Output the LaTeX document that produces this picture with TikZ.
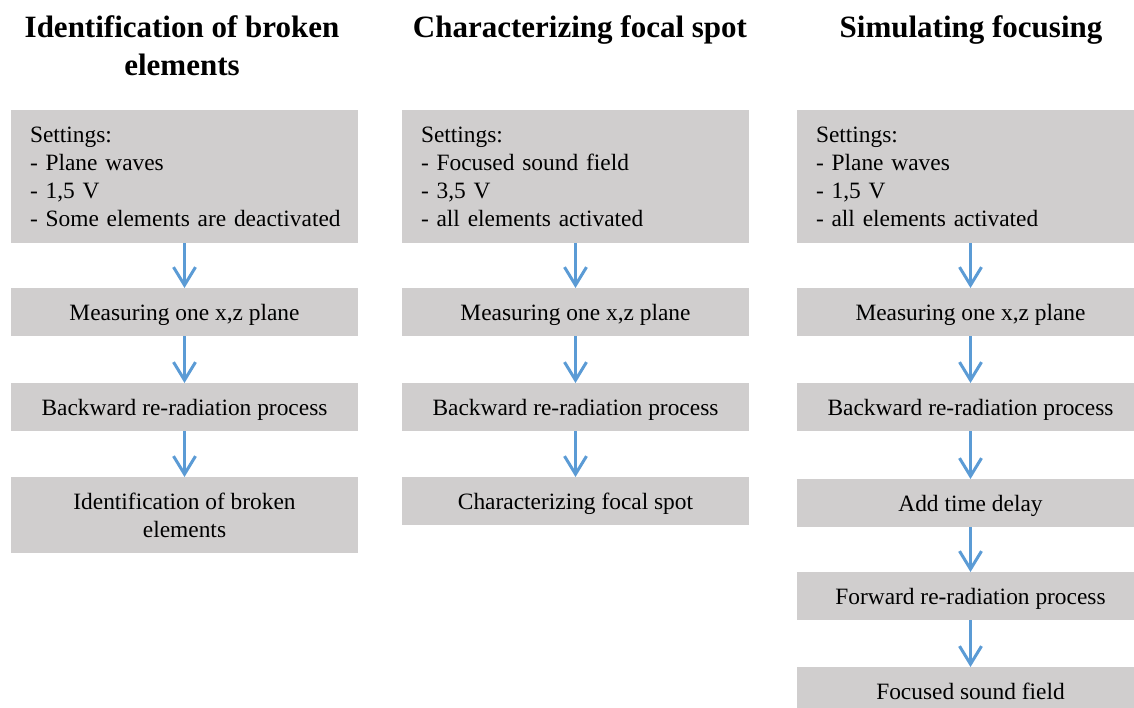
\documentclass[tikz,border=0pt]{standalone}
\usepackage{fontspec}
\setmainfont{Liberation Serif}
\usetikzlibrary{arrows.meta}
\definecolor{boxgray}{HTML}{D0CECE}
\definecolor{arrowblue}{HTML}{5B9BD5}
\begin{document}
\begin{tikzpicture}[x=1pt,y=-1pt,
  box/.style={fill=boxgray, draw=none, minimum width=347pt, inner sep=0pt, anchor=north,
    font=\fontsize{23.4}{27.8}\selectfont, align=center},
  onebox/.style={box, minimum height=48pt, text height=22pt, text depth=5pt},
  setbox/.style={box, minimum height=133pt, text width=309pt, inner xsep=19pt, align=left},
  title/.style={font=\fontsize{31}{38}\selectfont\bfseries, align=center, inner sep=0pt, anchor=base},
  flow/.style={draw=arrowblue, line width=3pt, -{Straight Barb[length=18pt,width=22pt]}}]
\useasboundingbox (0,0) rectangle (1134,708);
\clip (0,0) rectangle (1134,708);
% titles
\node[title] (t1) at (182,76) {Identification of broken\\elements};
\node[title] (t2) at (580,38) {Characterizing focal spot};
\node[title] (t3) at (971,38) {Simulating focusing};
% column 1
\node[setbox] (a1) at (184.5,110) {Settings:\\- Plane waves\\- 1,5 V\\\mbox{- Some elements are deactivated}};
\node[onebox] (a2) at (184.5,288) {Measuring one x,z plane};
\node[onebox] (a3) at (184.5,383) {Backward re-radiation process};
\node[box, minimum height=76pt] (a4) at (184.5,477) {Identification of broken\\elements};
% column 2
\node[setbox] (b1) at (575.5,110) {Settings:\\- Focused sound field\\- 3,5 V\\- all elements activated};
\node[onebox] (b2) at (575.5,288) {Measuring one x,z plane};
\node[onebox] (b3) at (575.5,383) {Backward re-radiation process};
\node[onebox] (b4) at (575.5,477) {Characterizing focal spot};
% column 3
\node[setbox] (c1) at (970.5,110) {Settings:\\- Plane waves\\- 1,5 V\\- all elements activated};
\node[onebox] (c2) at (970.5,288) {Measuring one x,z plane};
\node[onebox] (c3) at (970.5,383) {Backward re-radiation process};
\node[onebox] (c4) at (970.5,479) {Add time delay};
\node[onebox] (c5) at (970.5,572) {Forward re-radiation process};
\node[onebox] (c6) at (970.5,667) {Focused sound field};
% arrows
\draw[flow] (a1.south) -- (a2.north);
\draw[flow] (a2.south) -- (a3.north);
\draw[flow] (a3.south) -- (a4.north);
\draw[flow] (b1.south) -- (b2.north);
\draw[flow] (b2.south) -- (b3.north);
\draw[flow] (b3.south) -- (b4.north);
\draw[flow] (c1.south) -- (c2.north);
\draw[flow] (c2.south) -- (c3.north);
\draw[flow] (c3.south) -- (c4.north);
\draw[flow] (c4.south) -- (c5.north);
\draw[flow] (c5.south) -- (c6.north);
\end{tikzpicture}
\end{document}
